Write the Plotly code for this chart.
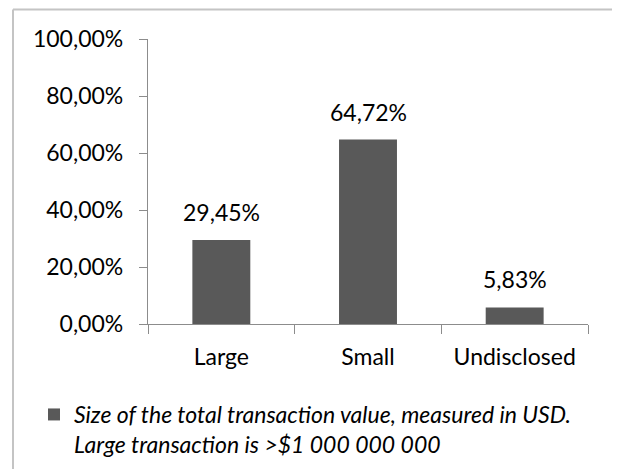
import plotly.graph_objects as go

# Share of deals by size of total transaction value
categories = ["Large", "Small", "Undisclosed"]
shares = [0.2945, 0.6472, 0.0583]
series_name = "Size of the total transaction value, measured in USD.<br>Large transaction is >$1 000 000 000"
y_ticks = [0, 0.2, 0.4, 0.6, 0.8, 1.0]

BAR_COLOR = "#595959"
AXIS_COLOR = "#8c8c8c"
FONT = "Lato"
TEXT_COLOR = "#000000"

W, H = 617, 472
L, R, T, B = 148, 29, 39, 148
pw, ph = W - L - R, H - T - B


def px_x(x):
    return (x - L) / pw


def px_y(y):
    return (H - B - y) / ph


fig = go.Figure()
fig.add_trace(go.Bar(
    x=categories,
    y=shares,
    name=series_name,
    marker=dict(color=BAR_COLOR, line=dict(width=0)),
    showlegend=True,
))

# value labels above each bar
for c, v in zip(categories, shares):
    fig.add_annotation(
        x=c, y=v, xref="x", yref="y",
        text=f"{v * 100:.2f}%".replace(".", ","),
        showarrow=False, yanchor="bottom", yshift=12,
        font=dict(family=FONT, size=23, color=TEXT_COLOR),
    )

# chart frame (left and top edges)
frame = dict(color="#c4c4c4", width=2)
fig.add_shape(type="line", xref="paper", yref="paper",
              x0=px_x(13), x1=px_x(13), y0=px_y(9.5), y1=px_y(469),
              line=frame, layer="below")
fig.add_shape(type="line", xref="paper", yref="paper",
              x0=px_x(13), x1=px_x(612), y0=px_y(9.5), y1=px_y(9.5),
              line=frame, layer="below")

fig.update_layout(
    width=W, height=H,
    margin=dict(l=L, r=R, t=T, b=B, pad=0, autoexpand=False),
    paper_bgcolor="white", plot_bgcolor="white",
    bargap=0.605,
    separators=", ",
    font=dict(family=FONT, size=23, color=TEXT_COLOR),
    showlegend=True,
    legend=dict(
        x=px_x(34), y=px_y(393), xanchor="left", yanchor="top",
        font=dict(family=FONT, size=23, color=TEXT_COLOR, style="italic"),
        valign="top", bgcolor="rgba(0,0,0,0)", borderwidth=0,
    ),
    xaxis=dict(
        type="category",
        showline=True, linecolor=AXIS_COLOR, linewidth=1.3,
        ticks="outside", tickson="boundaries", ticklen=9,
        tickcolor=AXIS_COLOR, tickwidth=1.3,
        showgrid=False, zeroline=False,
        ticklabelstandoff=12,
        tickfont=dict(family=FONT, size=23, color=TEXT_COLOR),
    ),
    yaxis=dict(
        range=[0, 1], tickvals=y_ticks, tickformat=".2%",
        showline=True, linecolor=AXIS_COLOR, linewidth=1.3,
        ticks="outside", ticklen=8, tickcolor=AXIS_COLOR, tickwidth=1.3,
        showgrid=False, zeroline=False,
        ticklabelstandoff=11,
        tickfont=dict(family=FONT, size=23, color=TEXT_COLOR),
    ),
)

fig.write_html("out.html")
